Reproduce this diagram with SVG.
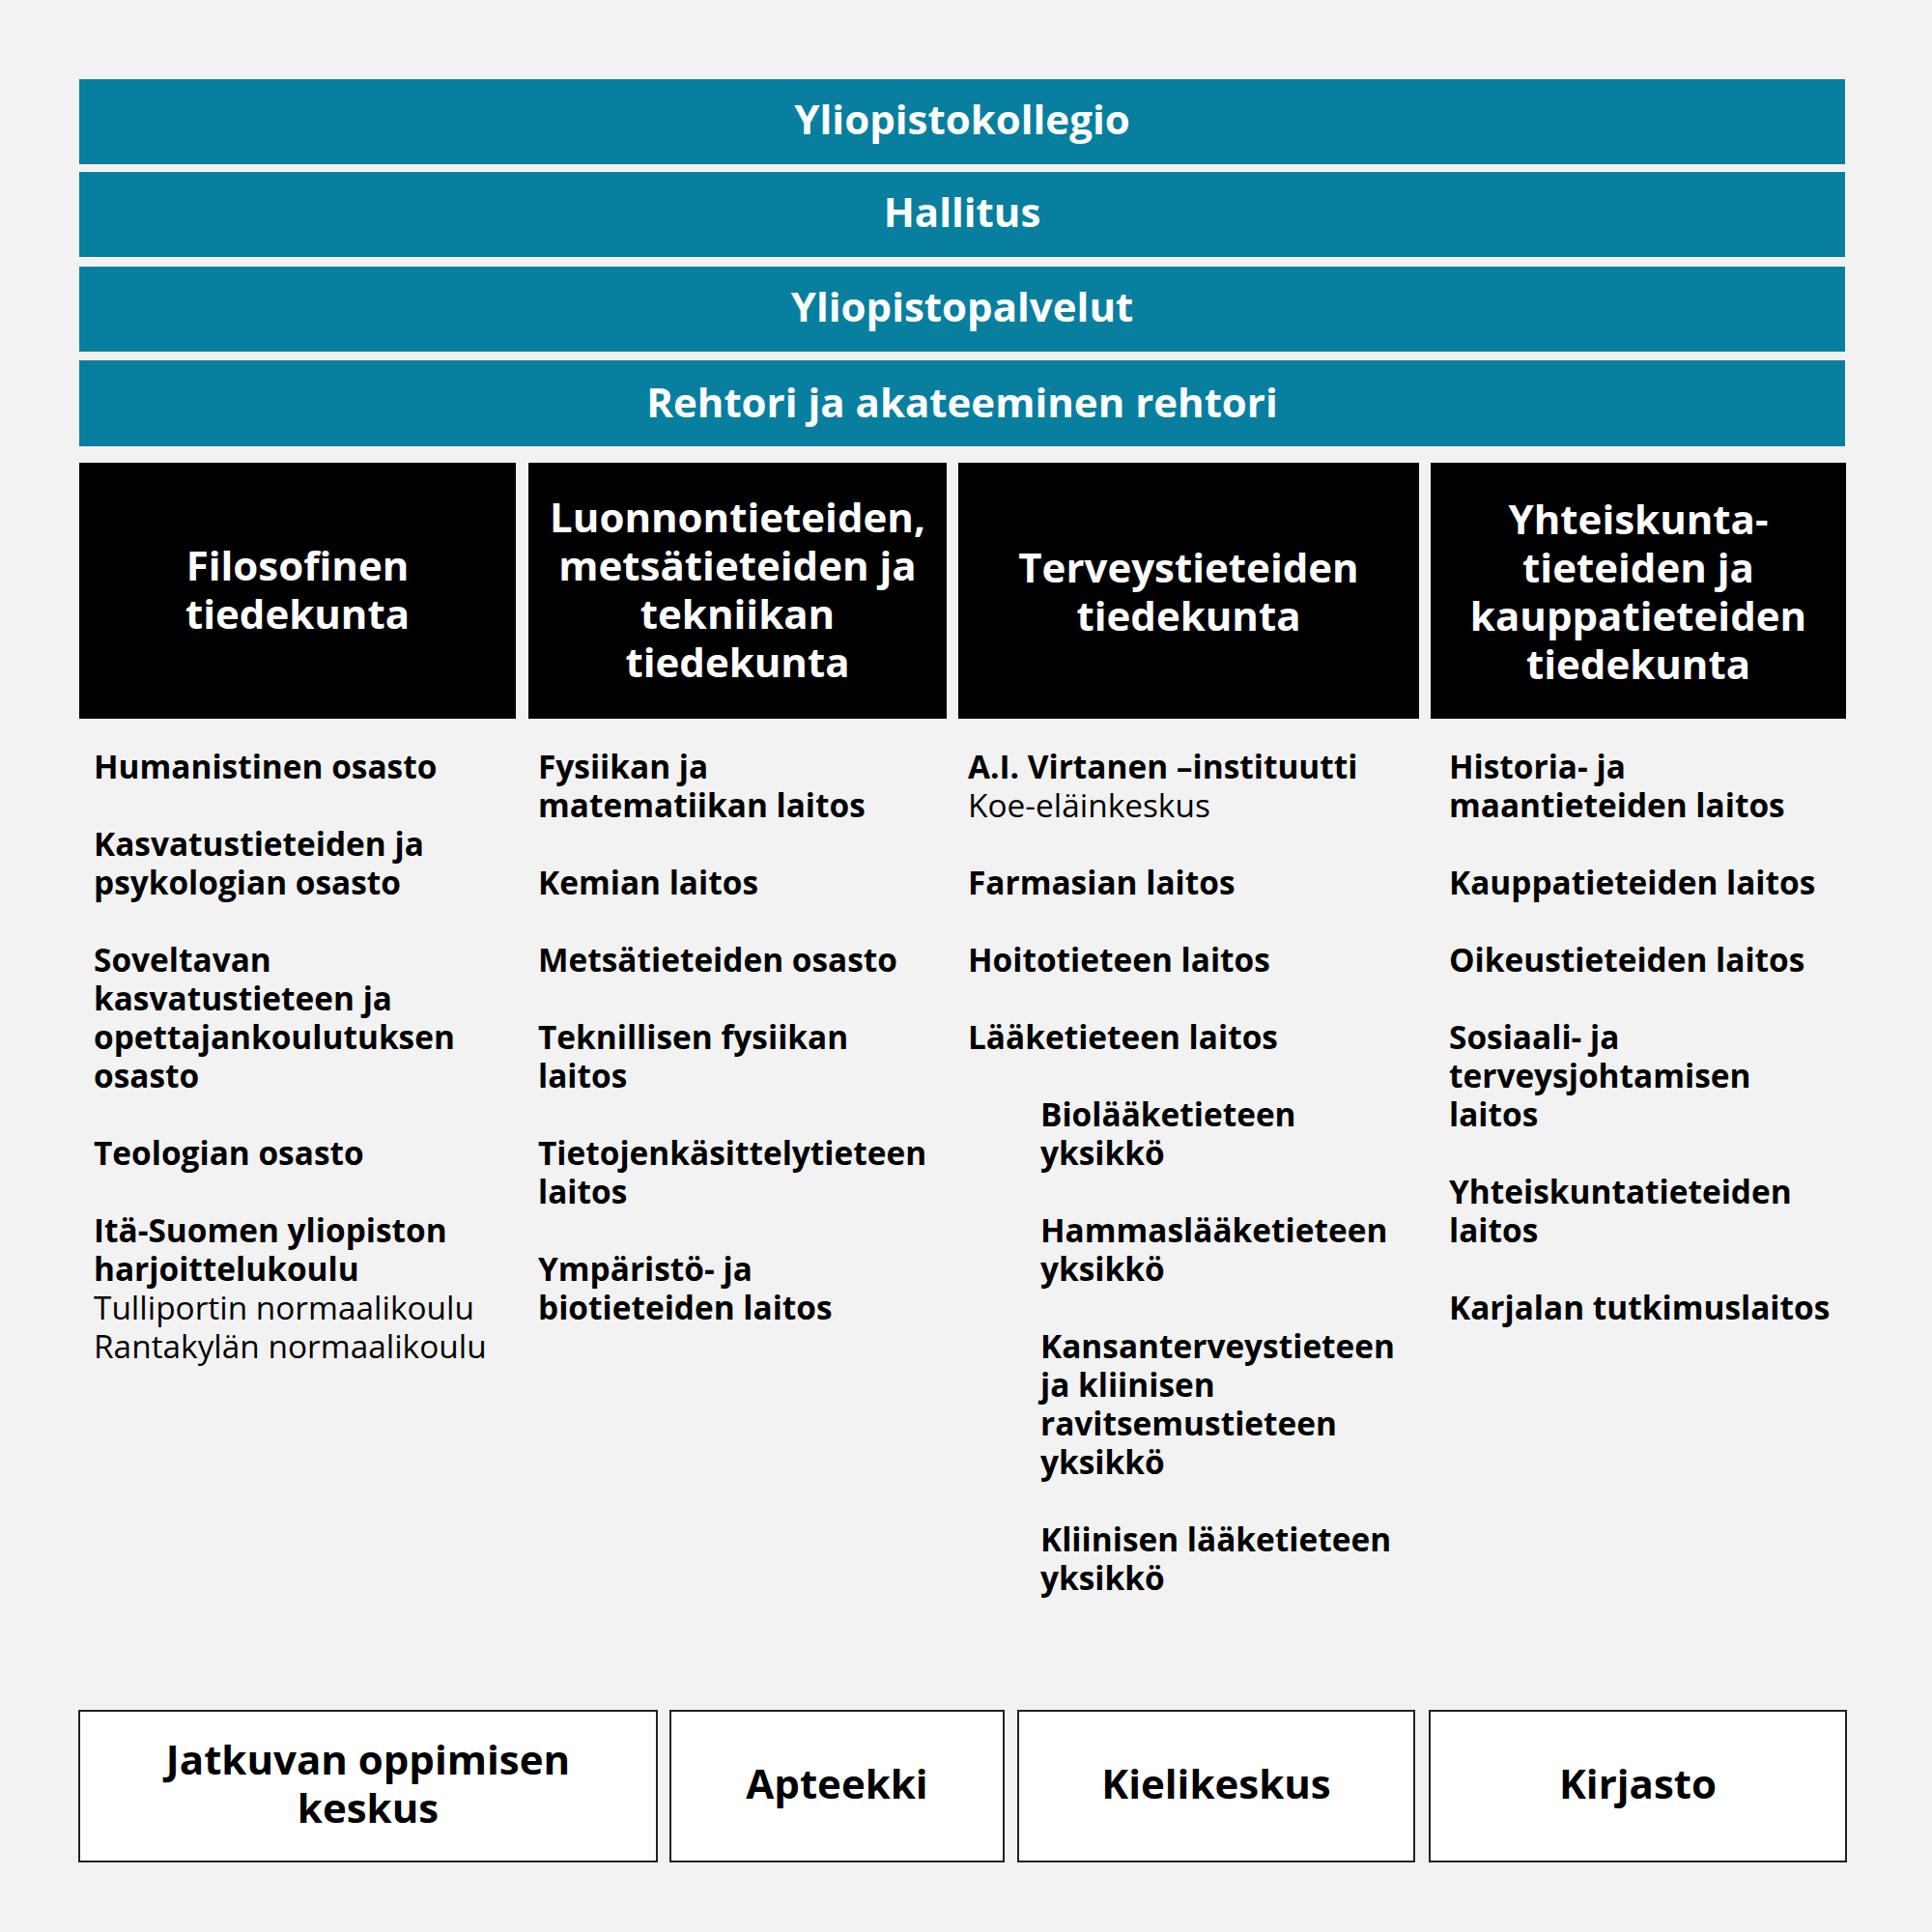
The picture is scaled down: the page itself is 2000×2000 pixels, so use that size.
<svg xmlns="http://www.w3.org/2000/svg" width="2000" height="2000" viewBox="0 0 2000 2000">
<style>
.band{fill:#087f9f}
.bt{font-family:"Open Sans","Noto Sans",sans-serif;font-weight:700;font-size:42px;fill:#fff;text-anchor:middle}
.fac{fill:#000}
.ft{font-family:"Open Sans","Noto Sans",sans-serif;font-weight:700;font-size:42px;fill:#fff;text-anchor:middle}
.li{font-family:"Open Sans","Noto Sans",sans-serif;font-weight:700;font-size:33.4px;fill:#000}
.rg{font-weight:400}
.ub{fill:#fff;stroke:#222;stroke-width:2}
.ut{font-family:"Open Sans","Noto Sans",sans-serif;font-weight:700;font-size:42px;fill:#000;text-anchor:middle}
</style>
<rect x="0" y="0" width="2000" height="2000" fill="#f2f2f2"/>
<g id="yliopistokollegio"><rect class="band" x="82" y="82" width="1828" height="88"/><text class="bt" x="996" y="139">Yliopistokollegio</text></g>
<g id="hallitus"><rect class="band" x="82" y="178" width="1828" height="88"/><text class="bt" x="996" y="235">Hallitus</text></g>
<g id="yliopistopalvelut"><rect class="band" x="82" y="276" width="1828" height="88"/><text class="bt" x="996" y="333">Yliopistopalvelut</text></g>
<g id="rehtori"><rect class="band" x="82" y="373" width="1828" height="89"/><text class="bt" x="996" y="432">Rehtori ja akateeminen rehtori</text></g>

<g id="fac-filosofinen"><rect class="fac" x="82" y="479" width="452" height="265"/><text class="ft" x="308" y="601"><tspan x="308">Filosofinen</tspan><tspan x="308" dy="50">tiedekunta</tspan></text></g>
<g id="fac-luonnontieteet"><rect class="fac" x="547" y="479" width="433" height="265"/><text class="ft" x="763.5" y="551"><tspan x="763.5">Luonnontieteiden,</tspan><tspan x="763.5" dy="50">metsätieteiden ja</tspan><tspan x="763.5" dy="50">tekniikan</tspan><tspan x="763.5" dy="50">tiedekunta</tspan></text></g>
<g id="fac-terveystieteet"><rect class="fac" x="992" y="479" width="477" height="265"/><text class="ft" x="1230.5" y="603"><tspan x="1230.5">Terveystieteiden</tspan><tspan x="1230.5" dy="50">tiedekunta</tspan></text></g>
<g id="fac-yhteiskunta"><rect class="fac" x="1481" y="479" width="430" height="265"/><text class="ft" x="1696" y="553"><tspan x="1696">Yhteiskunta-</tspan><tspan x="1696" dy="50">tieteiden ja</tspan><tspan x="1696" dy="50">kauppatieteiden</tspan><tspan x="1696" dy="50">tiedekunta</tspan></text></g>

<g id="list-filosofinen">
<text class="li" x="97" y="806">Humanistinen osasto</text>
<text class="li" x="97" y="886"><tspan x="97">Kasvatustieteiden ja</tspan><tspan x="97" dy="40">psykologian osasto</tspan></text>
<text class="li" x="97" y="1006"><tspan x="97">Soveltavan</tspan><tspan x="97" dy="40">kasvatustieteen ja</tspan><tspan x="97" dy="40">opettajankoulutuksen</tspan><tspan x="97" dy="40">osasto</tspan></text>
<text class="li" x="97" y="1206">Teologian osasto</text>
<text class="li" x="97" y="1286"><tspan x="97">Itä-Suomen yliopiston</tspan><tspan x="97" dy="40">harjoittelukoulu</tspan><tspan class="rg" x="97" dy="40">Tulliportin normaalikoulu</tspan><tspan class="rg" x="97" dy="40">Rantakylän normaalikoulu</tspan></text>
</g>

<g id="list-luonnontieteet">
<text class="li" x="557" y="806"><tspan x="557">Fysiikan ja</tspan><tspan x="557" dy="40">matematiikan laitos</tspan></text>
<text class="li" x="557" y="926">Kemian laitos</text>
<text class="li" x="557" y="1006">Metsätieteiden osasto</text>
<text class="li" x="557" y="1086"><tspan x="557">Teknillisen fysiikan</tspan><tspan x="557" dy="40">laitos</tspan></text>
<text class="li" x="557" y="1206"><tspan x="557">Tietojenkäsittelytieteen</tspan><tspan x="557" dy="40">laitos</tspan></text>
<text class="li" x="557" y="1326"><tspan x="557">Ympäristö- ja</tspan><tspan x="557" dy="40">biotieteiden laitos</tspan></text>
</g>

<g id="list-terveystieteet">
<text class="li" x="1002" y="806"><tspan x="1002">A.I. Virtanen –instituutti</tspan><tspan class="rg" x="1002" dy="40">Koe-eläinkeskus</tspan></text>
<text class="li" x="1002" y="926">Farmasian laitos</text>
<text class="li" x="1002" y="1006">Hoitotieteen laitos</text>
<text class="li" x="1002" y="1086">Lääketieteen laitos</text>
<text class="li" x="1077" y="1166"><tspan x="1077">Biolääketieteen</tspan><tspan x="1077" dy="40">yksikkö</tspan></text>
<text class="li" x="1077" y="1286"><tspan x="1077">Hammaslääketieteen</tspan><tspan x="1077" dy="40">yksikkö</tspan></text>
<text class="li" x="1077" y="1406"><tspan x="1077">Kansanterveystieteen</tspan><tspan x="1077" dy="40">ja kliinisen</tspan><tspan x="1077" dy="40">ravitsemustieteen</tspan><tspan x="1077" dy="40">yksikkö</tspan></text>
<text class="li" x="1077" y="1606"><tspan x="1077">Kliinisen lääketieteen</tspan><tspan x="1077" dy="40">yksikkö</tspan></text>
</g>

<g id="list-yhteiskunta">
<text class="li" x="1500" y="806"><tspan x="1500">Historia- ja</tspan><tspan x="1500" dy="40">maantieteiden laitos</tspan></text>
<text class="li" x="1500" y="926">Kauppatieteiden laitos</text>
<text class="li" x="1500" y="1006">Oikeustieteiden laitos</text>
<text class="li" x="1500" y="1086"><tspan x="1500">Sosiaali- ja</tspan><tspan x="1500" dy="40">terveysjohtamisen</tspan><tspan x="1500" dy="40">laitos</tspan></text>
<text class="li" x="1500" y="1246"><tspan x="1500">Yhteiskuntatieteiden</tspan><tspan x="1500" dy="40">laitos</tspan></text>
<text class="li" x="1500" y="1366">Karjalan tutkimuslaitos</text>
</g>

<g id="jatkuvan"><rect class="ub" x="82" y="1771" width="598" height="156"/><text class="ut" x="381" y="1837"><tspan x="381">Jatkuvan oppimisen</tspan><tspan x="381" dy="50">keskus</tspan></text></g>
<g id="apteekki"><rect class="ub" x="694" y="1771" width="345" height="156"/><text class="ut" x="866.5" y="1862">Apteekki</text></g>
<g id="kielikeskus"><rect class="ub" x="1054" y="1771" width="410" height="156"/><text class="ut" x="1259" y="1862">Kielikeskus</text></g>
<g id="kirjasto"><rect class="ub" x="1480" y="1771" width="431" height="156"/><text class="ut" x="1695.5" y="1862">Kirjasto</text></g>
<g id="connectors"></g>
</svg>
